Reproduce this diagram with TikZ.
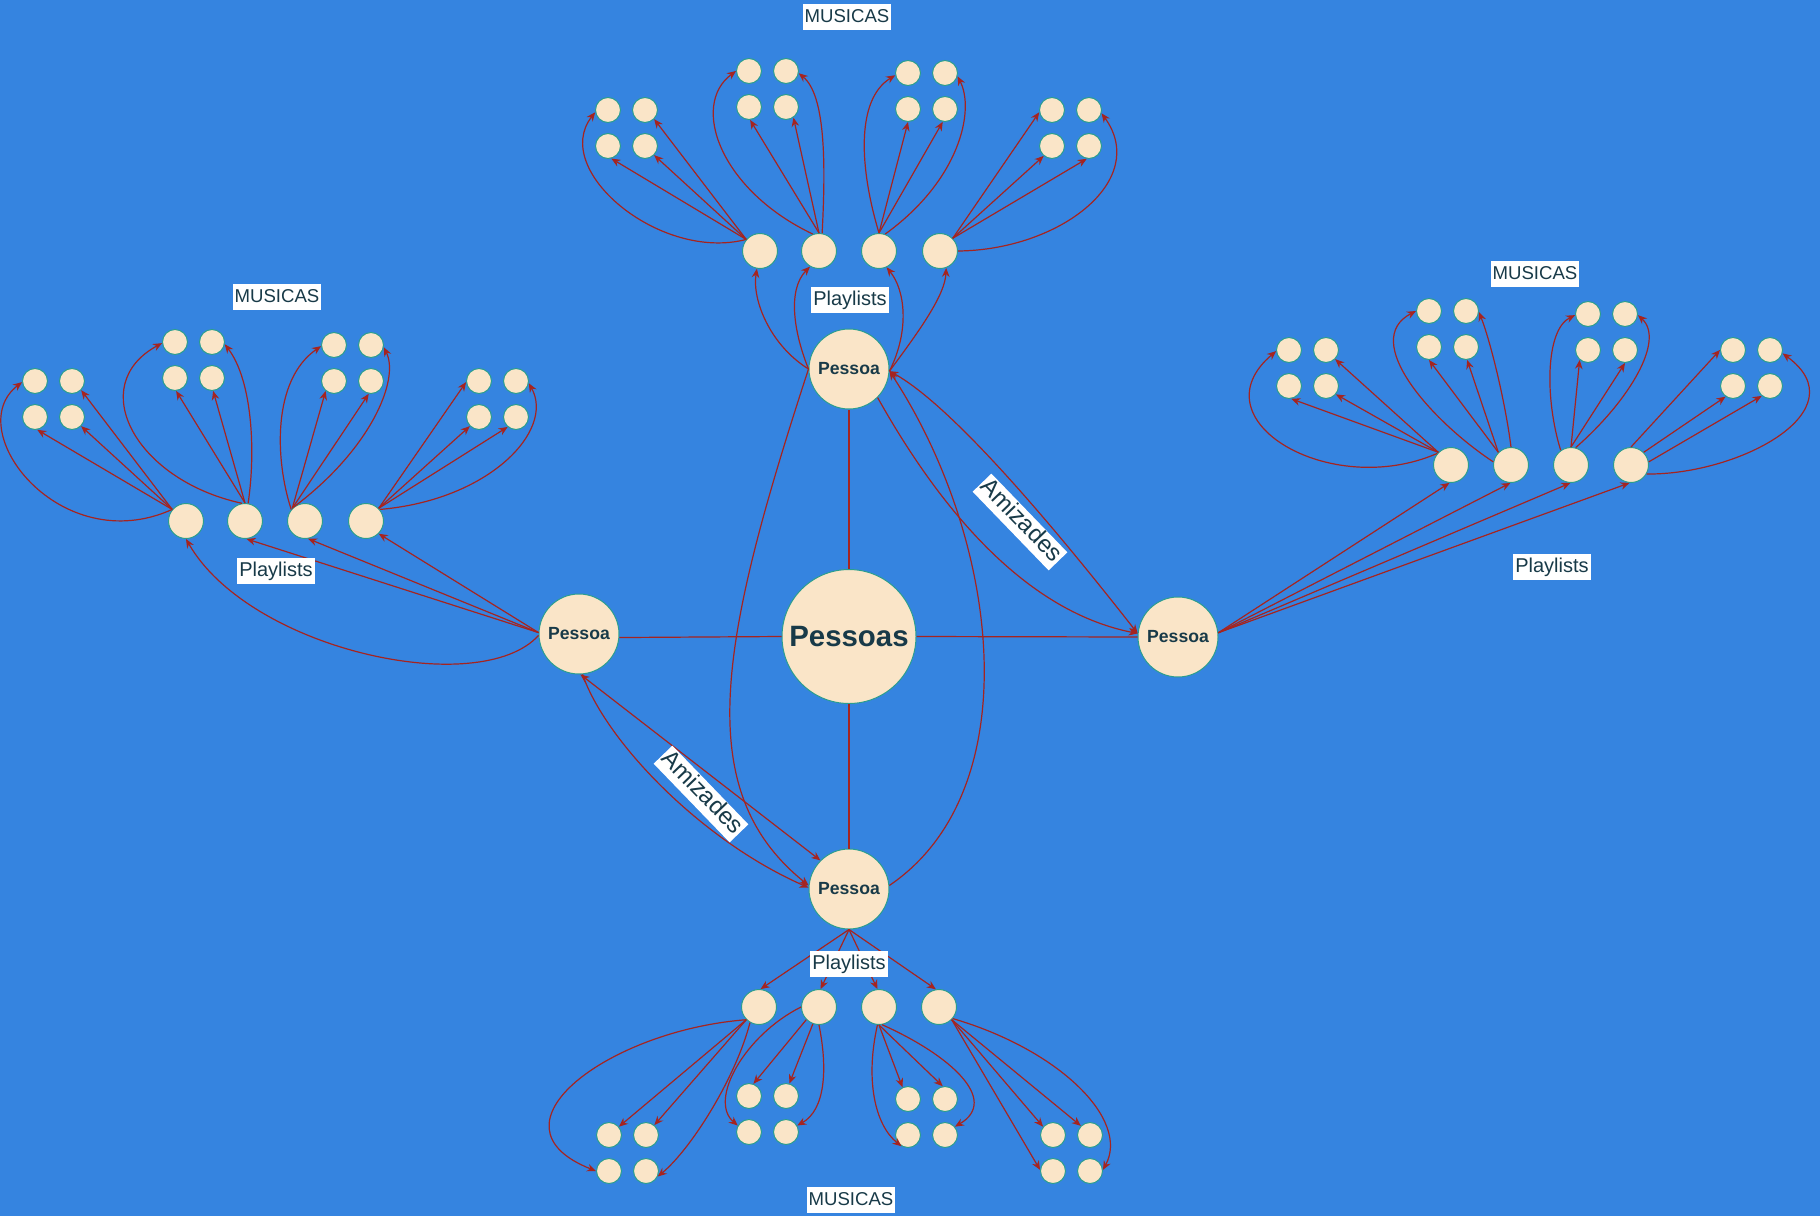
\documentclass[tikz,border=0pt]{standalone}
\usepackage{fontspec}
\setmainfont{Liberation Sans}
\usetikzlibrary{arrows.meta}
\definecolor{bgblue}{HTML}{3584E0}
\definecolor{nodefill}{HTML}{FAE5C8}
\definecolor{nodeline}{HTML}{2A9D8F}
\definecolor{edgered}{HTML}{A52420}
\definecolor{txt}{HTML}{183A48}
\newcommand\mquad[3]{%
 \node[mu] (#11) at (#2,#3) {};
 \node[mu] (#12) at ({#2+37},#3) {};
 \node[mu] (#13) at (#2,{#3+36}) {};
 \node[mu] (#14) at ({#2+37},{#3+36}) {};}
\begin{document}
\begin{tikzpicture}[x=0.5pt,y=-0.5pt,
  pes/.style={circle,fill=nodefill,draw=nodeline,line width=0.5pt,inner sep=0pt,minimum size=40pt,text=txt,font=\fontsize{8.8}{10}\selectfont\bfseries},
  hub/.style={pes,minimum size=67pt,font=\fontsize{14.7}{17}\selectfont\bfseries},
  pl/.style={circle,fill=nodefill,draw=nodeline,line width=0.5pt,inner sep=0pt,minimum size=17.5pt},
  mu/.style={pl,minimum size=12.5pt},
  lab/.style={fill=white,text=txt,inner xsep=1pt,inner ysep=1.5pt,text height=0.75em,text depth=0.25em},
  edge0/.style={draw=edgered,line width=0.6pt},
  arr/.style={edge0,-{Stealth[length=4.5pt,width=3.8pt]}},
  arr2/.style={edge0,{Stealth[length=4.5pt,width=3.8pt]}-{Stealth[length=4.5pt,width=3.8pt]}},
]
\useasboundingbox (0,0) rectangle (1820,1216);
\clip (0,0) rectangle (1820,1216);
\fill[bgblue] (0,0) rectangle (1820,1216);

% persons
\node[hub] (C) at (849,636.5) {Pessoas};
\node[pes] (T) at (849,369) {Pessoa};
\node[pes] (L) at (579,634) {Pessoa};
\node[pes] (R) at (1178,637) {Pessoa};
\node[pes] (B) at (849,889) {Pessoa};

% playlists
\foreach \n/\x in {1/760,2/819,3/879,4/940} \node[pl] (T\n) at (\x,251) {};
\foreach \n/\x in {1/186,2/245,3/305,4/366} \node[pl] (L\n) at (\x,521) {};
\foreach \n/\x in {1/1451,2/1511,3/1571,4/1631} \node[pl] (R\n) at (\x,465) {};
\foreach \n/\x in {1/759,2/819,3/879,4/939} \node[pl] (B\n) at (\x,1007) {};

% musics
\mquad{T1}{608}{110} \mquad{T2}{749}{71} \mquad{T3}{908}{73} \mquad{T4}{1052}{110}
\mquad{L1}{35}{381} \mquad{L2}{175}{342} \mquad{L3}{334}{345} \mquad{L4}{479}{381}
\mquad{R1}{1289}{350} \mquad{R2}{1429}{311} \mquad{R3}{1588}{314} \mquad{R4}{1733}{350}
\mquad{B1}{609}{1135} \mquad{B2}{749}{1096} \mquad{B3}{908}{1099} \mquad{B4}{1053}{1135}

% hub lines
\draw[edge0] (C.90) -- (T.-90);
\draw[edge0] (C.180) -- (L.-5);
\draw[edge0] (C.0) -- (R.180);
\draw[edge0] (C.-90) -- (B.90);

% friendships
\draw[arr2] (T.-3) .. controls (960,410) and (1080,560) .. (R.175);
\draw[arr] (T.-45) .. controls (935,500) and (1020,610) .. (R.175);
\draw[arr] (B.5) .. controls (1030,790) and (1000,540) .. (T.-3);
\draw[arr2] (L.-88) -- (B.135);
\draw[arr] (L.-85) .. controls (605,740) and (700,840) .. (B.178);
\draw[arr] (T.180) .. controls (720,640) and (690,790) .. (B.175);

% top person -> playlists
\draw[arr] (T.180) .. controls (770,345) and (752,300) .. (T1.-100);
\draw[arr] (T.180) .. controls (794,333) and (787,290) .. (T2.-120);
\draw[arr] (T.-3) .. controls (910,330) and (905,290) .. (T3.-65);
\draw[arr] (T.-3) .. controls (920,330) and (945,295) .. (T4.-70);

% top playlists -> musics
\draw[arr] (T1.140) .. controls (660,262) and (550,170) .. (T11.190);
\draw[arr] (T1.140) -- (T12.-45);
\draw[arr] (T1.140) -- (T13.-75);
\draw[arr] (T1.140) -- (T14.-45);
\draw[arr] (T2.110) .. controls (720,190) and (690,105) .. (T21.180);
\draw[arr] (T2.80) .. controls (826,160) and (825,95) .. (T22.-10);
\draw[arr] (T2.north) -- (T23.-85);
\draw[arr] (T2.north) -- (T24.-55);
\draw[arr] (T3.north) .. controls (860,170) and (855,100) .. (T31.190);
\draw[arr] (T3.70) .. controls (960,180) and (975,110) .. (T32.-15);
\draw[arr] (T3.north) -- (T33.-90);
\draw[arr] (T3.north) -- (T34.-100);
\draw[arr] (T4.45) -- (T41.190);
\draw[arr] (T4.45) -- (T43.-130);
\draw[arr] (T4.45) -- (T44.-100);
\draw[arr] (T4.0) .. controls (1060,250) and (1150,180) .. (T42.-15);

% left person -> playlists
\draw[arr] (L.182) .. controls (480,700) and (250,650) .. (L1.-90);
\draw[arr] (L.178) -- (L2.-85);
\draw[arr] (L.178) -- (L3.-80);
\draw[arr] (L.178) -- (L4.-45);

% left playlists -> musics
\draw[arr] (L1.140) .. controls (60,560) and (-40,430) .. (L11.185);
\draw[arr] (L1.140) -- (L12.-45);
\draw[arr] (L1.140) -- (L13.-80);
\draw[arr] (L1.140) -- (L14.-45);
\draw[arr] (L2.100) .. controls (135,480) and (85,385) .. (L21.185);
\draw[arr] (L2.80) .. controls (256,450) and (252,380) .. (L22.-10);
\draw[arr] (L2.north) -- (L23.-85);
\draw[arr] (L2.north) -- (L24.-85);
\draw[arr] (L3.140) .. controls (275,460) and (272,380) .. (L31.185);
\draw[arr] (L3.130) .. controls (370,450) and (400,380) .. (L32.-10);
\draw[arr] (L3.135) -- (L33.-130);
\draw[arr] (L3.135) -- (L34.-100);
\draw[arr] (L4.45) -- (L41.185);
\draw[arr] (L4.45) -- (L43.-135);
\draw[arr] (L4.45) -- (L44.-130);
\draw[arr] (L4.40) .. controls (490,500) and (555,430) .. (L42.-10);

% right person -> playlists
\draw[arr] (R.6) -- (R1.-95);
\draw[arr] (R.6) -- (R2.-92);
\draw[arr] (R.6) -- (R3.-92);
\draw[arr] (R.6) -- (R4.-95);

% right playlists -> musics
\draw[arr] (R1.140) .. controls (1330,500) and (1195,420) .. (R11.185);
\draw[arr] (R1.135) -- (R12.-45);
\draw[arr] (R1.135) -- (R13.-80);
\draw[arr] (R1.135) -- (R14.-40);
\draw[arr] (R2.170) .. controls (1430,420) and (1360,340) .. (R21.180);
\draw[arr] (R2.north) .. controls (1505,400) and (1490,340) .. (R22.-5);
\draw[arr] (R2.135) -- (R23.-90);
\draw[arr] (R2.135) -- (R24.-85);
\draw[arr] (R3.125) .. controls (1545,400) and (1545,330) .. (R31.185);
\draw[arr] (R3.75) .. controls (1630,400) and (1665,340) .. (R32.-5);
\draw[arr] (R3.north) -- (R33.-130);
\draw[arr] (R3.north) -- (R34.-90);
\draw[arr] (R4.north) -- (R41.180);
\draw[arr] (R4.45) -- (R43.-125);
\draw[arr] (R4.10) -- (R44.-130);
\draw[arr] (R4.-30) .. controls (1740,475) and (1860,410) .. (R42.-15);

% bottom person -> playlists
\draw[arr] (B.south) -- (B1.85);
\draw[arr] (B.south) -- (B2.85);
\draw[arr] (B.south) -- (B3.95);
\draw[arr] (B.south) -- (B4.100);

% bottom playlists -> musics
\draw[arr] (B1.-135) -- (B11.40);
\draw[arr] (B1.-135) -- (B12.50);
\draw[arr] (B1.-135) .. controls (610,1030) and (480,1125) .. (B13.180);
\draw[arr] (B1.-120) .. controls (735,1080) and (690,1150) .. (B14.-25);
\draw[arr] (B2.-135) -- (B21.70);
\draw[arr] (B2.-110) -- (B22.75);
\draw[arr] (B2.180) .. controls (745,1035) and (708,1100) .. (B23.150);
\draw[arr] (B2.-90) .. controls (828,1070) and (825,1110) .. (B24.30);
\draw[arr] (B3.-90) -- (B31.115);
\draw[arr] (B3.-90) -- (B32.100);
\draw[arr] (B3.-95) .. controls (865,1080) and (875,1125) .. (B33.-120);
\draw[arr] (B3.-80) .. controls (950,1055) and (1000,1100) .. (B34.40);
\draw[arr] (B4.-45) -- (B41.140);
\draw[arr] (B4.-45) -- (B42.135);
\draw[arr] (B4.-45) -- (B43.175);
\draw[arr] (B4.-40) .. controls (1060,1050) and (1130,1120) .. (B44.5);

% labels
\begin{scope}[every node/.style={lab,font=\fontsize{9.3}{11}\selectfont}]
\node (mT) at (847,17) {MUSICAS};
\node (mL) at (277,297) {MUSICAS};
\node (mR) at (1535,274) {MUSICAS};
\node (mB) at (851,1200) {MUSICAS};
\end{scope}
\begin{scope}[every node/.style={lab,font=\fontsize{10}{12}\selectfont}]
\node (pT) at (850,300) {Playlists};
\node (pL) at (276,571) {Playlists};
\node (pR) at (1552,567) {Playlists};
\node (pB) at (849,964) {Playlists};
\end{scope}
\begin{scope}[every node/.style={lab,font=\fontsize{12}{14}\selectfont,rotate=-46}]
\node (aTR) at (1020,522) {Amizades};
\node (aLB) at (701,794) {Amizades};
\end{scope}
\end{tikzpicture}
\end{document}
